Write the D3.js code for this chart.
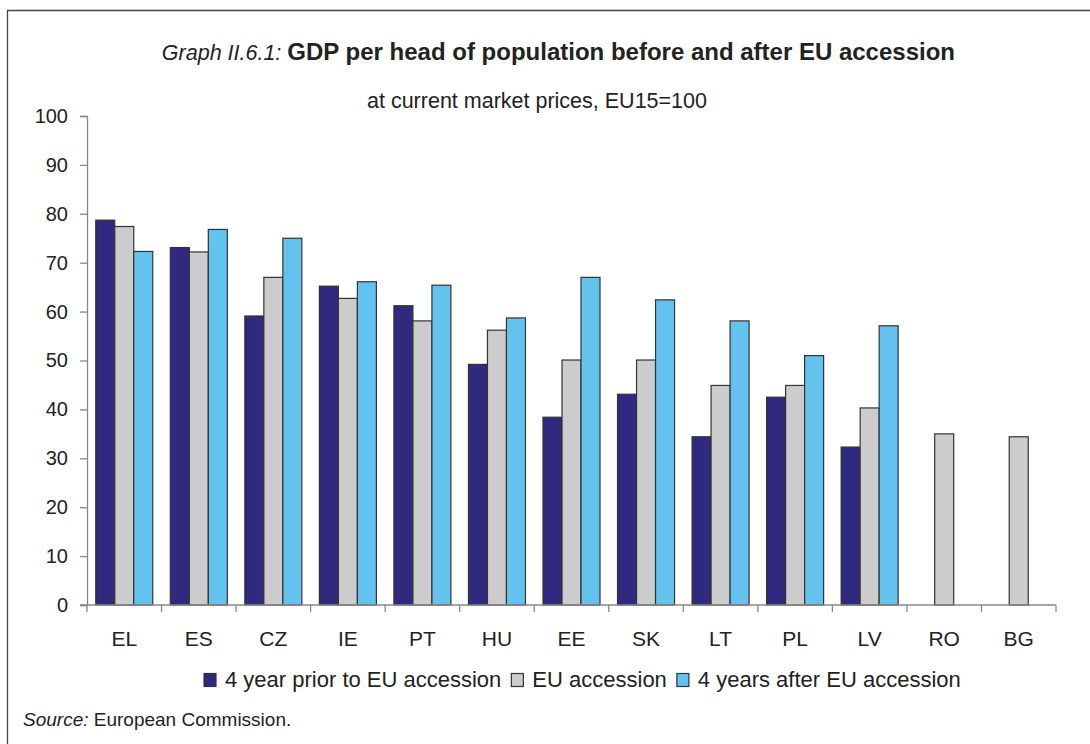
<!DOCTYPE html>
<html>
<head>
<meta charset="utf-8">
<script src="https://cdn.jsdelivr.net/npm/d3@7/dist/d3.min.js"></script>
<style>
  html, body { margin: 0; padding: 0; background: #fff; }
  svg { display: block; font-family: "Liberation Sans", Arial, sans-serif; }
</style>
</head>
<body>
<svg id="chart" width="1090" height="744"></svg>
<script>
const categories = ["EL", "ES", "CZ", "IE", "PT", "HU", "EE", "SK", "LT", "PL", "LV", "RO", "BG"];
const seriesNames = ["4 year prior to EU accession", "EU accession", "4 years after EU accession"];
const priorValues = [78.7, 73.1, 59.1, 65.2, 61.2, 49.2, 38.4, 43.1, 34.4, 42.5, 32.3, null, null];
const accessionValues = [77.4, 72.2, 67.0, 62.7, 58.1, 56.2, 50.1, 50.1, 44.9, 44.9, 40.3, 35.0, 34.4];
const afterValues = [72.3, 76.8, 75.0, 66.1, 65.4, 58.7, 67.0, 62.4, 58.1, 51.0, 57.1, null, null];
const yTicks = [0, 10, 20, 30, 40, 50, 60, 70, 80, 90, 100];
const seriesColors = ["#2f2a80", "#cccccc", "#63c3ee"];

const seriesValues = [priorValues, accessionValues, afterValues];
const svg = d3.select("#chart");
const textColor = "#222";

// frame
svg.append("path").attr("d", "M7.5,744 L7.5,10.5 L1090,10.5")
  .attr("fill", "none").attr("stroke", "#444").attr("stroke-width", 1.3);

// title
const title = svg.append("text").attr("x", 955).attr("y", 60)
  .attr("text-anchor", "end").attr("fill", textColor).style("font-size", "24px");
title.append("tspan").attr("font-style", "italic").style("font-size", "21.5px").text("Graph II.6.1: ");
title.append("tspan").attr("font-weight", "bold").text("GDP per head of population before and after EU accession");

svg.append("text").attr("x", 537).attr("y", 108).attr("text-anchor", "middle")
  .attr("fill", textColor).style("font-size", "21.5px").text("at current market prices, EU15=100");

// scales
const x0 = d3.scaleBand().domain(categories).range([87, 1056]).paddingInner(0).paddingOuter(0);
const bw = x0.bandwidth();
const groupW = 57;
const x1 = d3.scaleBand().domain(d3.range(seriesNames.length)).range([(bw - groupW) / 2, (bw + groupW) / 2]);
const y = d3.scaleLinear().domain([0, 100]).range([605, 116]);

// bars
const data = [];
categories.forEach((c, i) => {
  seriesValues.forEach((arr, s) => {
    if (arr[i] != null) data.push({ c, s, v: arr[i] });
  });
});
svg.append("g").selectAll("rect").data(data).join("rect")
  .attr("x", d => x0(d.c) + x1(d.s))
  .attr("y", d => y(d.v))
  .attr("width", x1.bandwidth())
  .attr("height", d => y(0) - y(d.v))
  .attr("fill", d => seriesColors[d.s])
  .attr("stroke", "#333")
  .attr("stroke-width", 1.2);

// y axis
const yAxis = svg.append("g").attr("transform", "translate(87,0)")
  .call(d3.axisLeft(y).tickValues(yTicks).tickSize(7).tickPadding(12).tickFormat(d3.format("d")));
yAxis.select(".domain").attr("stroke", "#888").attr("stroke-width", 1.3);
yAxis.selectAll(".tick line").attr("stroke", "#888").attr("stroke-width", 1.3);
yAxis.selectAll(".tick text").attr("fill", textColor).style("font-size", "20px")
  .style("font-family", "'Liberation Sans', Arial, sans-serif");

// x axis
const xAxisG = svg.append("g");
xAxisG.append("line").attr("x1", 80).attr("x2", 1056).attr("y1", y(0)).attr("y2", y(0))
  .attr("stroke", "#888").attr("stroke-width", 1.3);
const boundaries = categories.map(c => x0(c)).concat([x0(categories[categories.length - 1]) + bw]);
xAxisG.selectAll("line.tk").data(boundaries).join("line").attr("class", "tk")
  .attr("x1", d => d).attr("x2", d => d).attr("y1", y(0)).attr("y2", y(0) + 7)
  .attr("stroke", "#888").attr("stroke-width", 1.3);
xAxisG.selectAll("text").data(categories).join("text")
  .attr("x", d => x0(d) + bw / 2).attr("y", 646)
  .attr("text-anchor", "middle").attr("fill", textColor).style("font-size", "21px")
  .text(d => d);

// legend
const legend = svg.append("g");
let lx = 204;
seriesNames.forEach((name, i) => {
  legend.append("rect").attr("x", lx).attr("y", 673.5).attr("width", 12).attr("height", 13)
    .attr("fill", seriesColors[i]).attr("stroke", "#333").attr("stroke-width", 1.2);
  const t = legend.append("text").attr("x", lx + 21).attr("y", 687)
    .attr("fill", textColor).style("font-size", "22px").text(name);
  lx += 21 + t.node().getComputedTextLength() + 10;
});

// source
const src = svg.append("text").attr("x", 23).attr("y", 726).attr("fill", textColor).style("font-size", "19px");
src.append("tspan").attr("font-style", "italic").text("Source:");
src.append("tspan").text(" European Commission.");
</script>
</body>
</html>
